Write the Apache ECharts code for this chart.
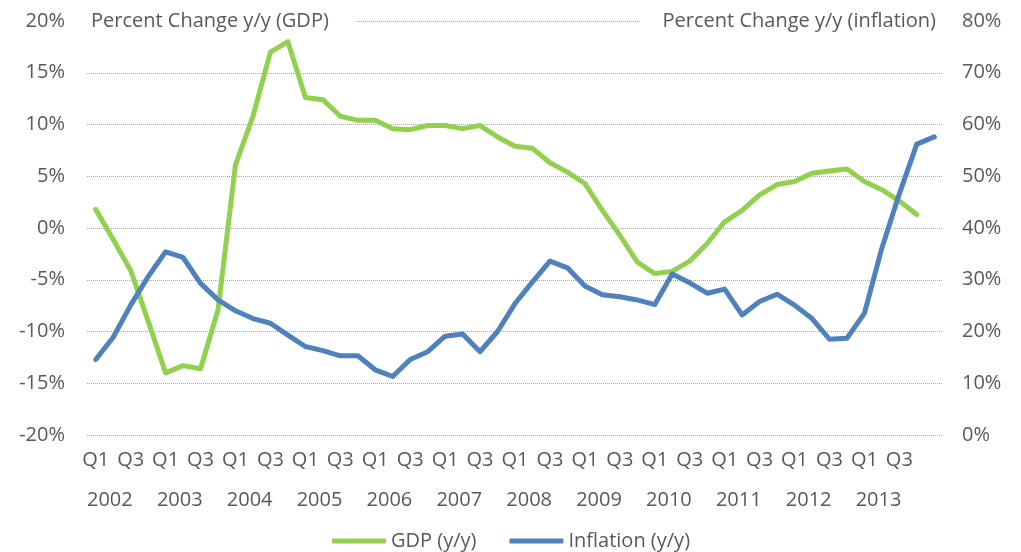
<!DOCTYPE html>
<html>
<head>
<meta charset="utf-8">
<script src="https://cdn.jsdelivr.net/npm/echarts@6/dist/echarts.min.js"></script>
<style>
  html, body { margin: 0; padding: 0; background: #fff; }
  #chart { width: 1021px; height: 552px; }
</style>
</head>
<body>
<div id="chart"></div>
<script>
const years = ['2002', '2003', '2004', '2005', '2006', '2007', '2008', '2009', '2010', '2011', '2012', '2013', '2014']
const quarters = ['Q1', 'Q2', 'Q3', 'Q4']

// GDP y/y, %, Q1 2002 .. Q4 2013
const gdp = [
  1.8, -1.1, -4.1, -9.0, -14.0, -13.3, -13.6, -7.9, 6.1, 10.8,
  17.0, 18.0, 12.6, 12.4, 10.8, 10.4, 10.4, 9.6, 9.5, 9.9,
  9.9, 9.6, 9.9, 8.8, 7.9, 7.7, 6.3, 5.4, 4.3, 1.7,
  -0.7, -3.3, -4.4, -4.2, -3.2, -1.5, 0.6, 1.7, 3.2, 4.2,
  4.5, 5.3, 5.5, 5.7, 4.5, 3.7, 2.6, 1.3
]

// Inflation y/y, %, Q1 2002 .. Q1 2014
const inflation = [
  14.6, 18.9, 25.1, 30.6, 35.4, 34.3, 29.3, 26.1, 24.0, 22.5,
  21.6, 19.3, 17.1, 16.3, 15.3, 15.3, 12.6, 11.3, 14.6, 16.1,
  19.1, 19.5, 16.1, 20.0, 25.4, 29.6, 33.6, 32.3, 28.8, 27.1,
  26.7, 26.1, 25.2, 31.1, 29.4, 27.4, 28.2, 23.2, 25.8, 27.2,
  25.1, 22.5, 18.5, 18.7, 23.5, 36.1, 46.6, 56.2, 57.6
]

// one category per quarter, up to Q1 2014
const categories = []
years.forEach((y, i) => {
  quarters.forEach(q => {
    if (i < years.length - 1 || q === 'Q1') categories.push(q + ' ' + y)
  })
})
// year labels sit on the left edge of each year's first quarter
const yearEdges = []
for (let i = 0; i <= categories.length; i++) {
  const c = categories[i]
  yearEdges.push(c && c.startsWith('Q1') && i < categories.length - 1 ? c.split(' ')[1] : '')
}

const FONT = '"Open Sans", sans-serif'
const TXT = '#595959'
const FS = 20

const chart = echarts.init(document.getElementById('chart'), null, { renderer: 'canvas' })

chart.setOption({
  animation: false,
  textStyle: { fontFamily: FONT },
  title: [
    {
      text: 'Percent Change y/y (GDP)',
      left: 87,
      top: 10,
      padding: [0, 28, 0, 4],
      backgroundColor: '#fff',
      textStyle: { color: TXT, fontSize: FS, fontWeight: 'normal', fontFamily: FONT, lineHeight: 22 }
    },
    {
      text: 'Percent Change y/y (inflation)',
      right: 78,
      top: 10,
      padding: [0, 7, 0, 22],
      backgroundColor: '#fff',
      textStyle: { color: TXT, fontSize: FS, fontWeight: 'normal', fontFamily: FONT, lineHeight: 22 }
    }
  ],
  legend: {
    left: 332,
    top: 531,
    padding: 0,
    icon: 'roundRect',
    itemWidth: 54,
    itemHeight: 5,
    itemGap: 33,
    textStyle: { color: TXT, fontSize: FS, fontFamily: FONT },
    data: ['GDP (y/y)', 'Inflation (y/y)']
  },
  grid: { left: 87, right: 78, top: 21, bottom: 117 },
  xAxis: [
    {
      type: 'category',
      data: categories,
      boundaryGap: true,
      axisLine: { show: false, onZero: false },
      axisTick: { show: false },
      splitLine: { show: false },
      axisLabel: {
        interval: 1,
        showMaxLabel: false,
        margin: 15,
        color: TXT,
        fontSize: FS,
        fontFamily: FONT,
        formatter: v => v.split(' ')[0]
      }
    },
    {
      type: 'category',
      position: 'bottom',
      data: yearEdges,
      boundaryGap: false,
      axisLine: { show: false, onZero: false },
      axisTick: { show: false },
      splitLine: { show: false },
      axisLabel: {
        interval: 0,
        align: 'left',
        margin: 55,
        color: TXT,
        fontSize: FS,
        fontFamily: FONT
      }
    }
  ],
  yAxis: [
    {
      type: 'value',
      min: -20,
      max: 20,
      interval: 5,
      axisLine: { show: false },
      axisTick: { show: false },
      axisLabel: { margin: 22, color: TXT, fontSize: FS, fontFamily: FONT, formatter: v => v + '%' },
      splitLine: { lineStyle: { color: '#a6a6a6', type: 'dotted', width: 1 } }
    },
    {
      type: 'value',
      min: 0,
      max: 80,
      interval: 10,
      position: 'right',
      axisLine: { show: false },
      axisTick: { show: false },
      axisLabel: { margin: 19, color: TXT, fontSize: FS, fontFamily: FONT, formatter: v => v + '%' },
      splitLine: { show: false }
    }
  ],
  series: [
    {
      name: 'GDP (y/y)',
      type: 'line',
      xAxisIndex: 0,
      yAxisIndex: 0,
      data: gdp,
      symbol: 'none',
      color: '#92D050',
      lineStyle: { width: 5, cap: 'round', join: 'round' }
    },
    {
      name: 'Inflation (y/y)',
      type: 'line',
      xAxisIndex: 0,
      yAxisIndex: 1,
      data: inflation,
      symbol: 'none',
      color: '#4F81BD',
      lineStyle: { width: 5, cap: 'round', join: 'round' }
    }
  ]
})

window.addEventListener('resize', () => chart.resize())
</script>
</body>
</html>
